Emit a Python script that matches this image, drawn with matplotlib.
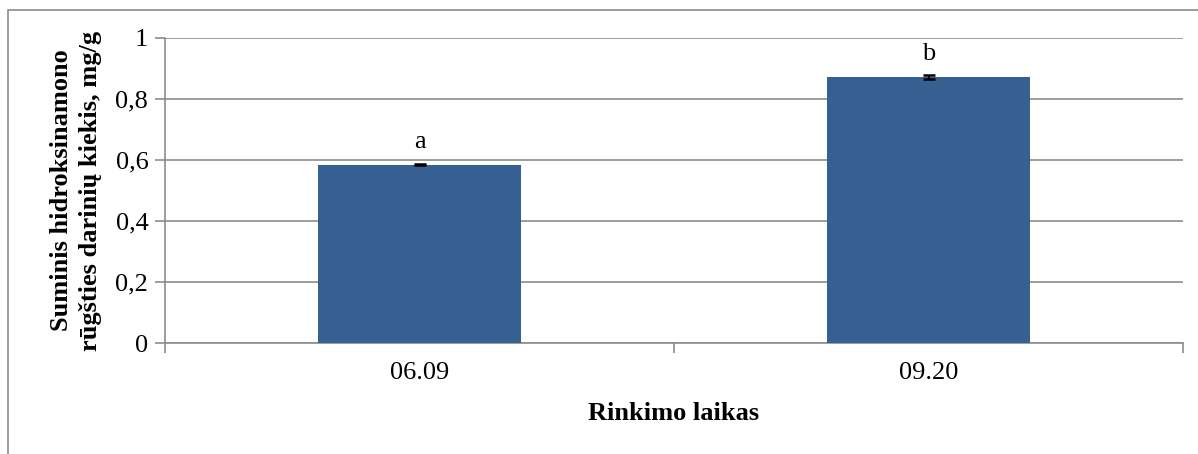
import matplotlib.pyplot as plt
from matplotlib.patches import Rectangle
from matplotlib.ticker import FuncFormatter

plt.rcParams['font.family'] = ['Liberation Serif', 'DejaVu Serif']

categories = ["06.09", "09.20"]
values = [0.585, 0.872]
errors = [0.003, 0.006]
letters = ["a", "b"]

fs = 19

fig = plt.figure(figsize=(11.98, 4.54), dpi=100)
ax = fig.add_axes([165 / 1198, 1 - 343 / 454, (1183 - 165) / 1198, (343 - 38) / 454])

# frame around the chart (only left/top visible in the original)
fig.patches.append(Rectangle((8 / 1198, -0.1), 1.2, 1 - 10 / 454 + 0.1,
                             transform=fig.transFigure, fill=False,
                             edgecolor="#8c8c8c", linewidth=1.2))

x = [0, 1]
ax.bar(x, values, width=0.4, color="#376092", zorder=3)
ax.errorbar(x, values, yerr=errors, fmt="none", ecolor="black",
            elinewidth=1.2, capsize=4.5, capthick=1.8, zorder=4)
for xi, v, e, lab in zip(x, values, errors, letters):
    ax.text(xi, v + e + 0.035, lab, ha="center", va="bottom", fontsize=fs)

ax.set_xlim(-0.5, 1.5)
ax.set_ylim(0, 1)
ax.set_yticks([0, 0.2, 0.4, 0.6, 0.8, 1.0])
ax.yaxis.set_major_formatter(FuncFormatter(lambda v, p: ("%g" % round(v, 1)).replace(".", ",")))
ax.set_xticks([-0.5, 0.5, 1.5])
ax.set_xticklabels([])
ax.set_xticks(x, minor=True)
ax.set_xticklabels(categories, minor=True)
ax.tick_params(axis="x", which="minor", length=0, pad=14, labelsize=fs)
ax.tick_params(axis="x", which="major", length=7, color="#8c8c8c", width=1.2)
ax.tick_params(axis="y", length=7, color="#8c8c8c", width=1.2, pad=5, labelsize=fs)

ax.grid(axis="y", color="#8c8c8c", linewidth=1.2, zorder=0)
for s in ["top", "right"]:
    ax.spines[s].set_visible(False)
for s in ["left", "bottom"]:
    ax.spines[s].set_color("#8c8c8c")
    ax.spines[s].set_linewidth(1.2)

ax.set_xlabel("Rinkimo laikas", fontsize=fs, fontweight="bold", labelpad=13)
ax.set_ylabel("Suminis hidroksinamono\nrūgšties darinių kiekis, mg/g",
              fontsize=fs, fontweight="bold", labelpad=10, linespacing=1.3)

fig.savefig("out.png", dpi=100)
